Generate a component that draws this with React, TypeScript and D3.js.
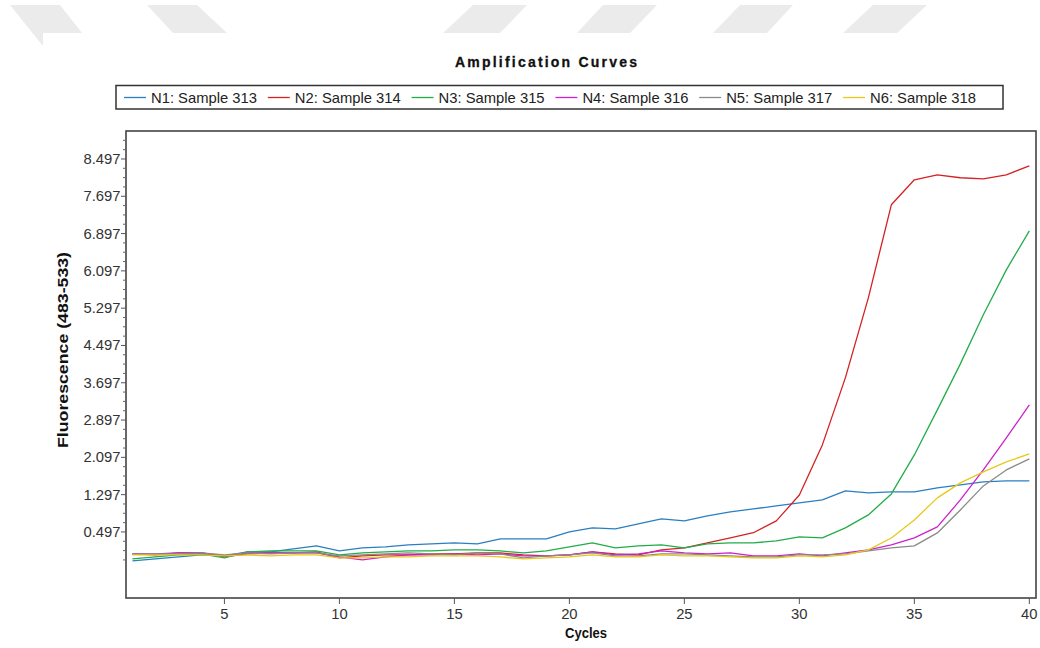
import React from "react";
import * as d3 from "d3";

// Cycle numbers 1..40
const cycles: number[] = Array.from({ length: 40 }, (_, i) => i + 1);

const seriesNames = [
  "N1: Sample 313",
  "N2: Sample 314",
  "N3: Sample 315",
  "N4: Sample 316",
  "N5: Sample 317",
  "N6: Sample 318",
];

const seriesColors = ["#2b7fc0", "#d42222", "#22ad4a", "#cc22cc", "#8a8a8a", "#e8c81a"];

// Fluorescence readings per cycle
const n1 = [-0.125, -0.082, -0.039, 0.003, -0.018, 0.068, 0.068, 0.132, 0.197, 0.089, 0.154, 0.175, 0.218, 0.239, 0.261, 0.239, 0.347, 0.347, 0.347, 0.497, 0.583, 0.561, 0.669, 0.776, 0.733, 0.84, 0.926, 0.991, 1.055, 1.119, 1.184, 1.377, 1.334, 1.355, 1.355, 1.441, 1.506, 1.57, 1.591, 1.591];
const n2 = [0.025, 0.003, 0.046, 0.046, -0.039, 0.025, 0.046, 0.046, 0.068, -0.061, -0.018, 0.003, 0.003, 0.025, 0.025, 0.046, 0.046, 0.003, -0.018, 0.003, 0.068, 0.025, 0.003, 0.111, 0.154, 0.26, 0.37, 0.48, 0.733, 1.29, 2.364, 3.802, 5.519, 7.514, 8.051, 8.158, 8.094, 8.072, 8.158, 8.351];
const n3 = [-0.082, -0.039, 0.003, 0.025, -0.061, 0.068, 0.089, 0.089, 0.089, 0.003, 0.046, 0.068, 0.089, 0.089, 0.111, 0.111, 0.089, 0.046, 0.089, 0.175, 0.261, 0.154, 0.197, 0.218, 0.154, 0.239, 0.261, 0.261, 0.304, 0.39, 0.368, 0.583, 0.862, 1.312, 2.149, 3.115, 4.102, 5.154, 6.119, 6.956];
const n4 = [0.025, 0.025, 0.046, 0.046, -0.018, 0.046, 0.046, 0.046, 0.046, -0.039, -0.104, -0.039, 0.003, 0.003, 0.025, 0.003, 0.025, -0.018, -0.018, 0.003, 0.068, 0.003, 0.025, 0.089, 0.046, 0.025, 0.046, -0.018, -0.018, 0.025, -0.018, 0.046, 0.111, 0.218, 0.368, 0.604, 1.184, 1.827, 2.514, 3.222];
const n5 = [0.025, 0.025, 0.025, 0.046, 0.003, 0.046, 0.025, 0.046, 0.046, -0.018, 0.003, 0.025, 0.046, 0.025, 0.003, 0.046, 0.025, -0.061, -0.018, 0.003, 0.046, -0.018, -0.018, 0.025, 0.025, 0.003, -0.018, -0.039, -0.039, 0.003, 0.003, 0.025, 0.089, 0.154, 0.197, 0.476, 0.969, 1.484, 1.827, 2.064];
const n6 = [0.003, 0.003, 0.003, 0.003, -0.018, 0.003, -0.018, 0.003, 0.003, -0.061, -0.061, -0.039, -0.039, -0.018, -0.018, -0.018, -0.039, -0.082, -0.061, -0.039, 0.003, -0.039, -0.039, 0.003, -0.018, -0.018, -0.039, -0.061, -0.061, -0.018, -0.039, 0.003, 0.111, 0.368, 0.755, 1.227, 1.549, 1.785, 1.999, 2.171];

const seriesValues = [n1, n2, n3, n4, n5, n6];

// Axis ticks
const xTicks = [5, 10, 15, 20, 25, 30, 35, 40];
const yTicks = [0.497, 1.297, 2.097, 2.897, 3.697, 4.497, 5.297, 6.097, 6.897, 7.697, 8.497];
const yMinorTicks = d3.range(0, 46).map((i) => -0.103 + i * 0.2).filter(
  (v) => !yTicks.some((t) => Math.abs(t - v) < 1e-6)
);

// Decorative header bands
const headerBands: [number, number][][] = [
  [[10, 5], [60, 5], [82, 33], [43, 33], [43, 46]],
  [[147, 5], [197, 5], [227, 33], [173, 33]],
  [[473, 5], [527, 5], [500, 33], [443, 33]],
  [[603, 5], [657, 5], [630, 33], [577, 33]],
  [[740, 5], [793, 5], [767, 33], [713, 33]],
  [[873, 5], [927, 5], [897, 33], [843, 33]],
];

const W = 1040;
const H = 648;
const plot = { left: 126, right: 1036, top: 131, bottom: 598 };
const FONT = "'Liberation Sans', Arial, sans-serif";

export default function App() {
  const x = d3.scaleLinear().domain([0.72, 40.29]).range([plot.left, plot.right]);
  const y = d3.scaleLinear().domain([-0.92, 9.097]).range([plot.bottom, plot.top]);

  const line = d3
    .line<number>()
    .x((_, i) => x(cycles[i]))
    .y((d) => y(d));

  const legendX0 = 124;
  const legendStep = 143.8;

  return (
    <svg
      width={W}
      height={H}
      viewBox={`0 0 ${W} ${H}`}
      style={{ position: "absolute", left: 0, top: 0, background: "#fff" }}
      fontFamily={FONT}
    >
      <rect x={0} y={0} width={W} height={H} fill="#fff" />
      {headerBands.map((pts, i) => (
        <polygon key={i} points={pts.map((p) => p.join(",")).join(" ")} fill="#ebebeb" />
      ))}

      {/* Title */}
      <text
        x={546}
        y={67}
        textAnchor="middle"
        fontSize={14}
        fontWeight="bold"
        fill="#111"
        stroke="#111"
        strokeWidth={0.3}
        textLength={182}
        lengthAdjust="spacing"
      >
        Amplification Curves
      </text>

      {/* Legend */}
      <rect x={116} y={85.5} width={887} height={23.5} fill="#fff" stroke="#333" strokeWidth={1.5} />
      {seriesNames.map((name, i) => {
        const lx = legendX0 + i * legendStep;
        return (
          <g key={name}>
            <line x1={lx} x2={lx + 22} y1={97.5} y2={97.5} stroke={seriesColors[i]} strokeWidth={1.3} />
            <text x={lx + 27} y={102.5} fontSize={15} fill="#222" textLength={106} lengthAdjust="spacingAndGlyphs">
              {name}
            </text>
          </g>
        );
      })}

      {/* Plot frame */}
      <rect
        x={plot.left}
        y={plot.top}
        width={plot.right - plot.left}
        height={plot.bottom - plot.top}
        fill="#fff"
        stroke="#444"
        strokeWidth={1.6}
      />

      {/* Y ticks */}
      {yMinorTicks.map((v) => (
        <line key={"m" + v} x1={plot.left - 3} x2={plot.left} y1={y(v)} y2={y(v)} stroke="#666" strokeWidth={1} />
      ))}
      {yTicks.map((v) => (
        <g key={"y" + v}>
          <line x1={plot.left - 5} x2={plot.left} y1={y(v)} y2={y(v)} stroke="#555" strokeWidth={1} />
          <text x={plot.left - 5.5} y={y(v) + 5} textAnchor="end" fontSize={14.8} fill="#333">
            {v.toFixed(3)}
          </text>
        </g>
      ))}

      {/* X ticks */}
      {xTicks.map((v) => (
        <g key={"x" + v}>
          <line x1={x(v)} x2={x(v)} y1={plot.bottom} y2={plot.bottom + 6} stroke="#555" strokeWidth={1} />
          <text x={x(v)} y={618.5} textAnchor="middle" fontSize={14.8} fill="#333">
            {v}
          </text>
        </g>
      ))}

      {/* Axis titles */}
      <text x={586} y={637.5} textAnchor="middle" fontSize={15} fontWeight="bold" fill="#111" textLength={42} lengthAdjust="spacingAndGlyphs">
        Cycles
      </text>
      <text
        transform={`translate(68, 350) rotate(-90)`}
        textAnchor="middle"
        fontSize={14.5}
        fontWeight="bold"
        fill="#111"
        textLength={196}
        lengthAdjust="spacingAndGlyphs"
      >
        Fluorescence (483-533)
      </text>

      {/* Curves */}
      <g>
        {seriesValues.map((vals, i) => (
          <path key={i} d={line(vals) ?? ""} fill="none" stroke={seriesColors[i]} strokeWidth={1.3} strokeLinejoin="round" />
        ))}
      </g>
    </svg>
  );
}
